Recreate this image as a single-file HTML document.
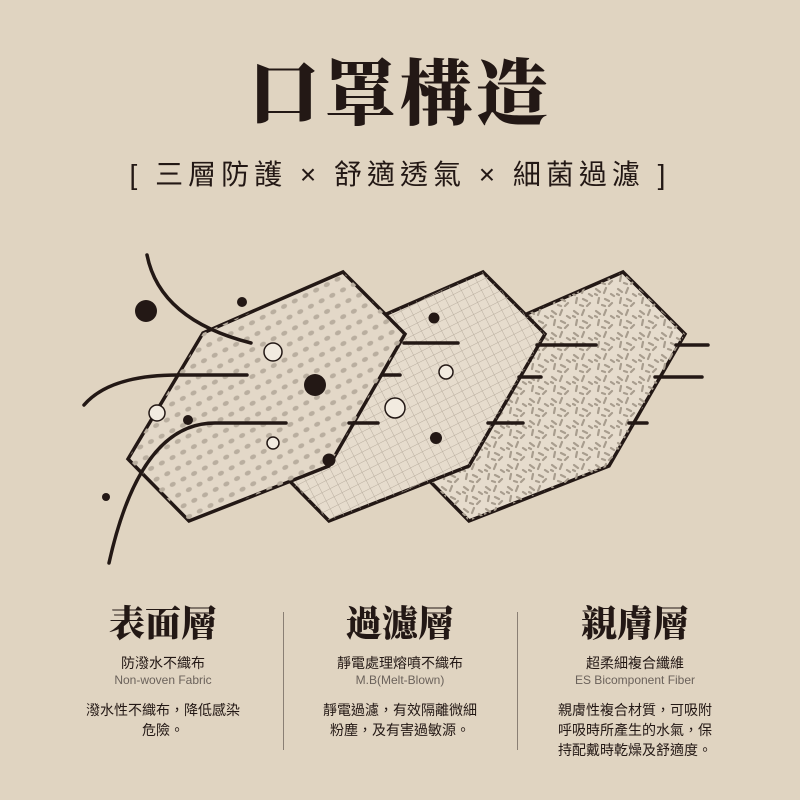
<!DOCTYPE html>
<html><head><meta charset="utf-8"><style>
body{margin:0;width:800px;height:800px;background:#e0d4c1;overflow:hidden;position:relative;font-family:"Liberation Sans","Noto Sans CJK TC",sans-serif;color:#231815}
.t{position:absolute;width:800px;text-align:center}
.col{position:absolute;top:600px;width:240px;text-align:center}
.h{font-family:"Liberation Serif","Noto Serif CJK SC",serif;font-weight:900;font-size:36px;line-height:48px}
.s{font-size:14px;margin-top:6px;line-height:18px}
.e{font-size:12px;color:#6b625b;line-height:16px}
.d{font-size:14px;line-height:20px;margin-top:12px}
.v{position:absolute;top:612px;width:1px;height:138px;background:#8a7f74}
</style></head><body>
<div class="t" style="top:50px;font-family:'Liberation Serif','Noto Serif CJK SC',serif;font-weight:900;font-size:72px;line-height:90px;letter-spacing:4px">口罩構造</div>
<div class="t" style="top:156px;font-size:28px;line-height:38px;letter-spacing:5px">[ 三層防護 × 舒適透氣 × 細菌過濾 ]</div>
<svg width="800" height="800" style="position:absolute;left:0;top:0">
<defs>
<pattern id="p1" width="12" height="12" patternUnits="userSpaceOnUse" patternTransform="rotate(-27)"><ellipse cx="6" cy="6" rx="3.2" ry="2.3" fill="#b9ae9f"/></pattern>
<pattern id="p2" width="9" height="9" patternUnits="userSpaceOnUse" patternTransform="rotate(-27)"><path d="M0 0H9M0 0V9" stroke="#b9ae9f" stroke-width="1"/></pattern>
<pattern id="p3" width="22" height="22" patternUnits="userSpaceOnUse"><g stroke="#a89d8e" stroke-width="2.2" fill="none" stroke-linecap="round"><path d="M2 3l4 3M12 2l-2 5M17 8l3 2M5 12l-1 5M11 13l4 2M18 17l-3 3M8 19l3 1M1 8l2 1"/></g></pattern>
</defs>
<g stroke="#231815" stroke-width="3.5" stroke-linejoin="miter">
<polygon points="623,272 685,334 609,466 469,521 408,459 483,333" fill="#e6dccd"/>
<polygon points="623,272 685,334 609,466 469,521 408,459 483,333" fill="url(#p3)" stroke="none"/>
<polygon points="483,272 545,334 469,466 329,521 268,459 343,333" fill="#e6dccd"/>
<polygon points="483,272 545,334 469,466 329,521 268,459 343,333" fill="url(#p2)" stroke="none"/>
<polygon points="343,272 405,334 329,466 189,521 128,459 203,333" fill="#e3d8c8"/>
<polygon points="343,272 405,334 329,466 189,521 128,459 203,333" fill="url(#p1)" stroke="none"/>
</g>
<g stroke="#231815" stroke-width="3.5" fill="none" stroke-linecap="round">
<path d="M147,255 Q160,320 251,343"/>
<path d="M84,405 Q110,375 178,375 L247,375"/>
<path d="M109,563 Q140,423 215,423 L286,423"/>
<path d="M404,343H458M382,375H400M349,423H378M537,345H596M519,377H541M488,423H523M676,345H708M655,377H702M629,423H647"/>
</g>
<g fill="#231815">
<circle cx="146" cy="311" r="11"/><circle cx="242" cy="302" r="5"/><circle cx="315" cy="385" r="11"/><circle cx="188" cy="420" r="5"/><circle cx="329" cy="460" r="6.5"/><circle cx="106" cy="497" r="4"/><circle cx="434" cy="318" r="5.5"/><circle cx="436" cy="438" r="6"/>
</g>
<g fill="#f2ebe0" stroke="#231815" stroke-width="1.5">
<circle cx="273" cy="352" r="9"/><circle cx="157" cy="413" r="8"/><circle cx="273" cy="443" r="6"/><circle cx="446" cy="372" r="7"/><circle cx="395" cy="408" r="10"/>
</g>
</svg>
<div class="v" style="left:283px"></div><div class="v" style="left:517px"></div>
<div class="col" style="left:43px"><div class="h">表面層</div><div class="s">防潑水不織布</div><div class="e">Non-woven Fabric</div><div class="d">潑水性不織布，降低感染<br>危險。</div></div>
<div class="col" style="left:280px"><div class="h">過濾層</div><div class="s">靜電處理熔噴不織布</div><div class="e">M.B(Melt-Blown)</div><div class="d">靜電過濾，有效隔離微細<br>粉塵，及有害過敏源。</div></div>
<div class="col" style="left:515px"><div class="h">親膚層</div><div class="s">超柔細複合纖維</div><div class="e">ES Bicomponent Fiber</div><div class="d">親膚性複合材質，可吸附<br>呼吸時所產生的水氣，保<br>持配戴時乾燥及舒適度。</div></div>
</body></html>
